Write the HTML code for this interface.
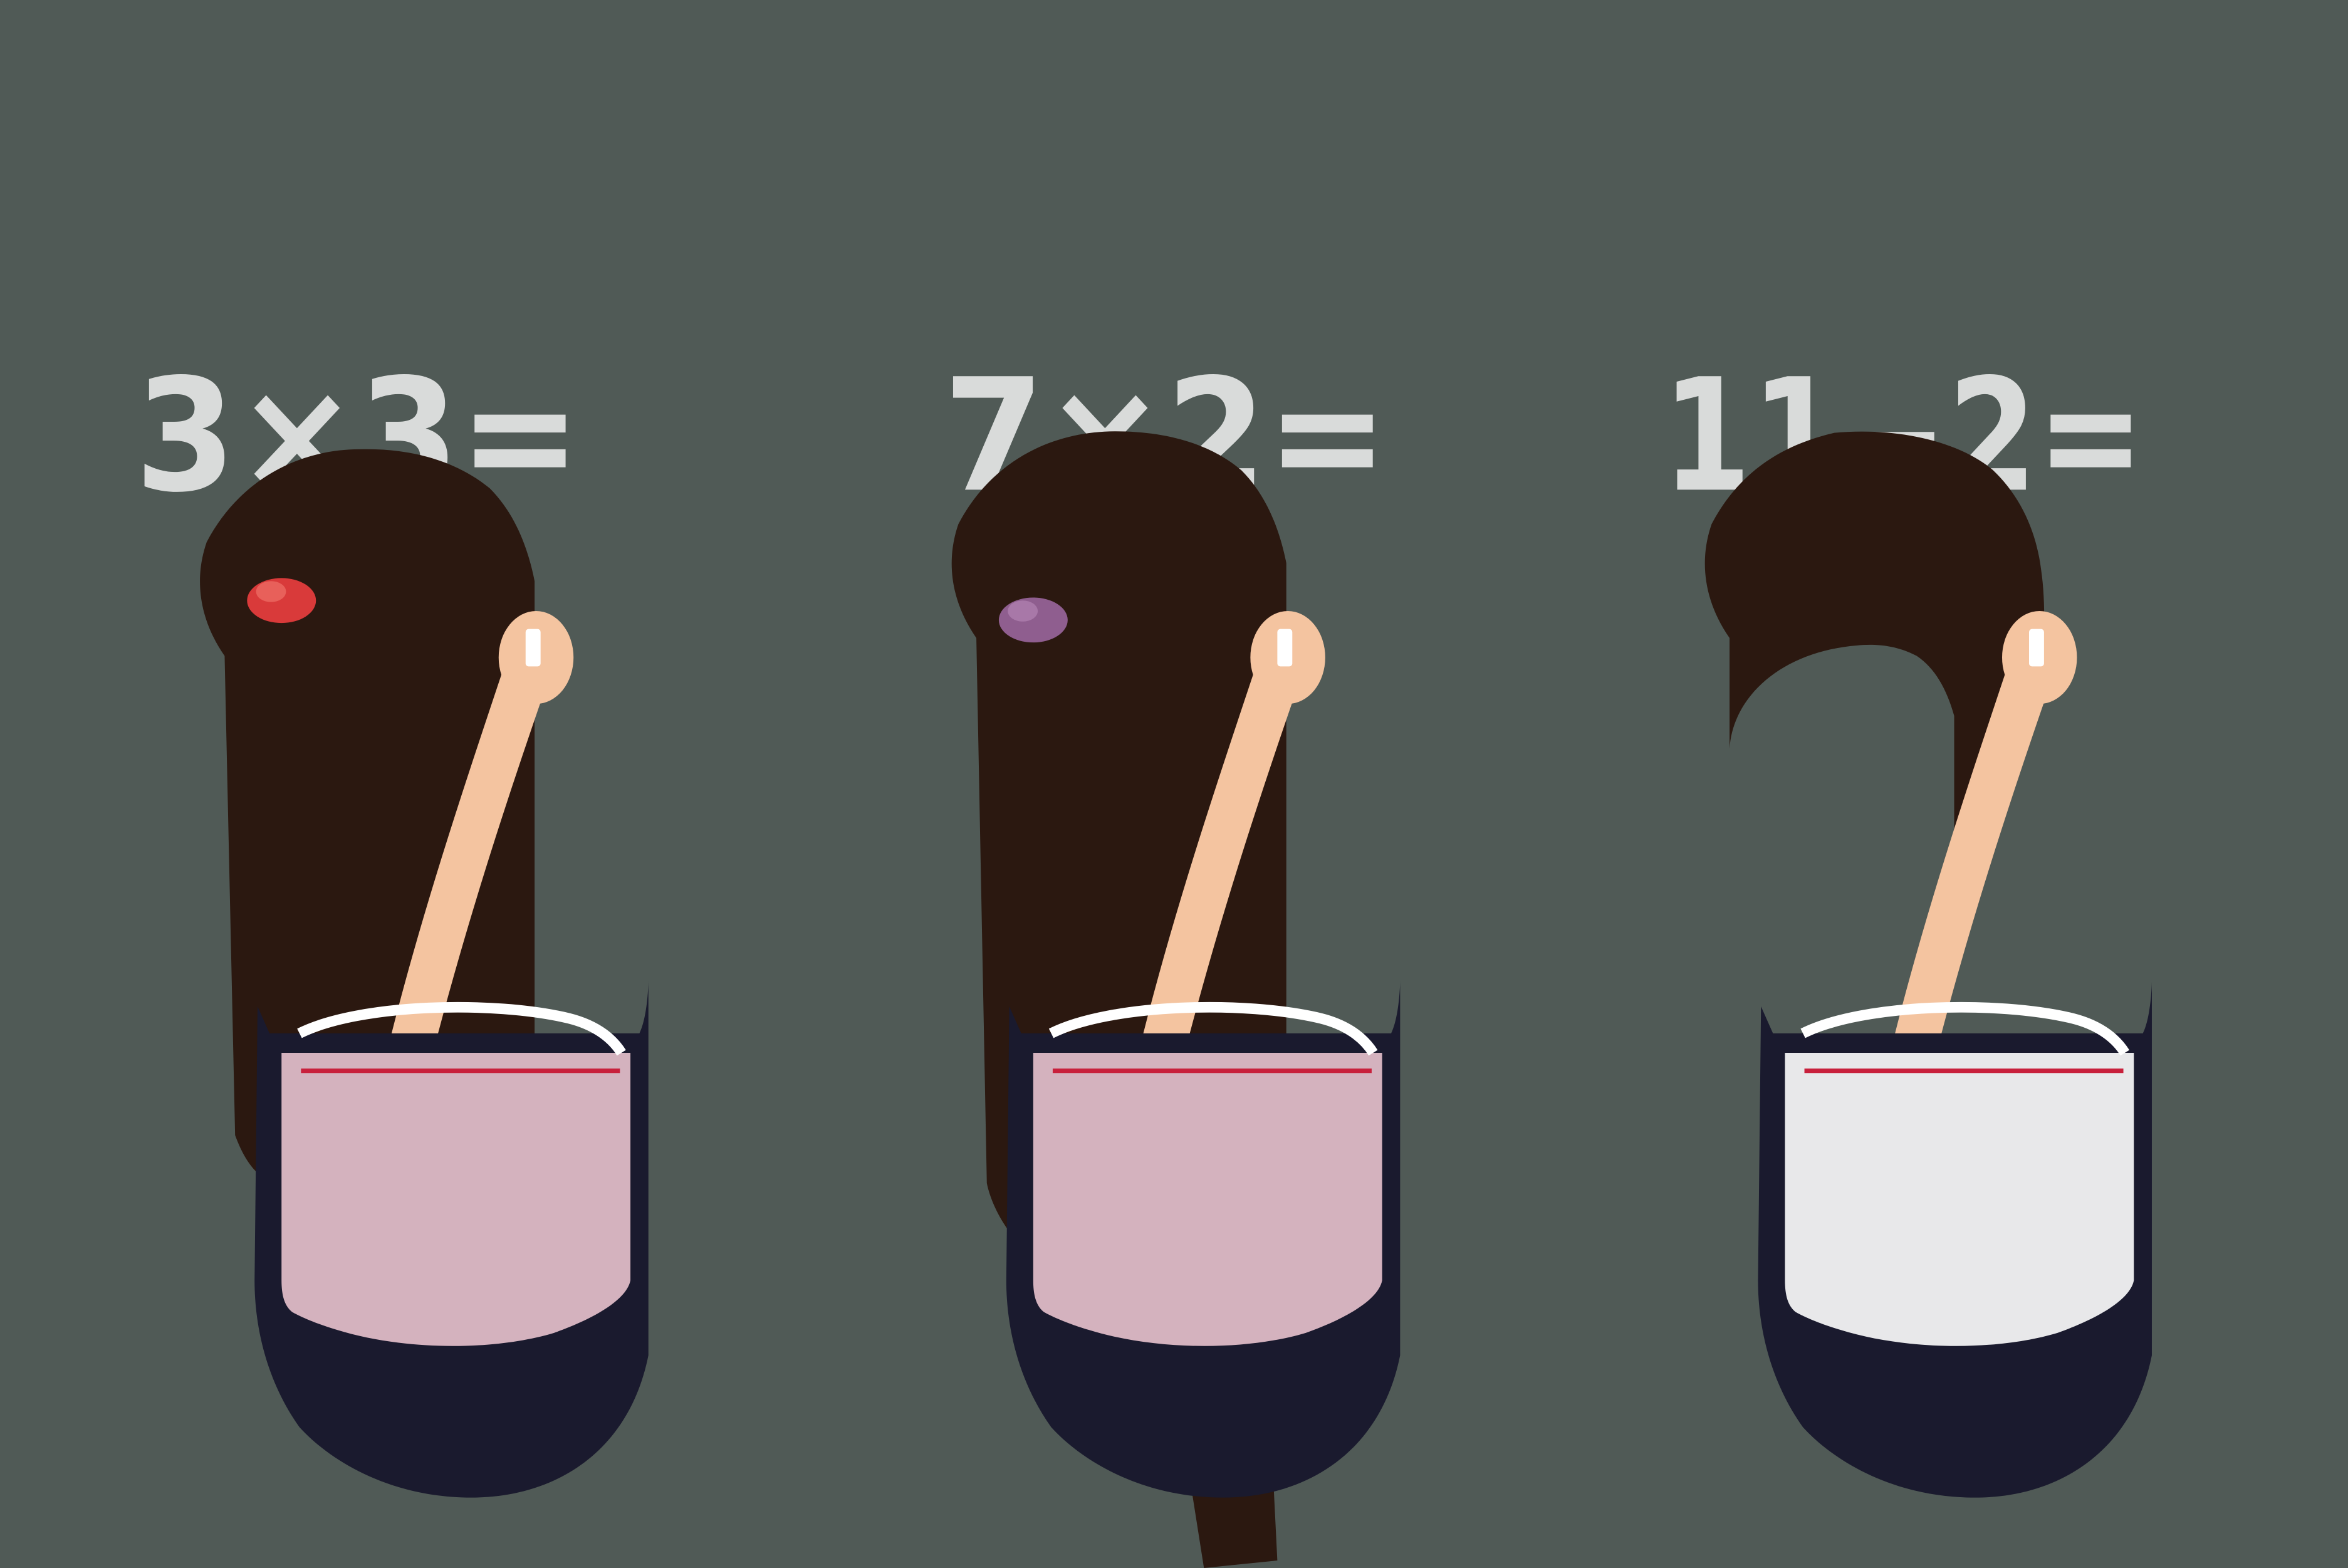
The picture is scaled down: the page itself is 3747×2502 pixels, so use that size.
<!DOCTYPE html>
<html><head><meta charset="utf-8"><style>
html,body{margin:0;padding:0;background:#525b57;}
svg{display:block;}
</style></head><body>
<svg width="3747" height="2502" viewBox="0 0 1568 1047" xmlns="http://www.w3.org/2000/svg">
<rect width="1568" height="1047" fill="#505a56"/>
<g font-family="DejaVu Sans, sans-serif" font-weight="bold" font-size="104" fill="#d9dbda">
<text x="90" y="327" textLength="298" lengthAdjust="spacingAndGlyphs">3×3=</text>
<text x="630" y="327" textLength="297" lengthAdjust="spacingAndGlyphs">7×2=</text>
<text x="1110" y="327" textLength="322" lengthAdjust="spacingAndGlyphs">11−2=</text>
</g>

<!-- figure 1 -->
<g>
<path fill="#2b1810" d="M150,438 C132,412 130,385 138,362 C160,320 200,300 240,300 C275,299 305,308 327,326 C345,344 353,368 357,388 L357,700 L200,780 C180,800 165,780 157,758 Z"/>
<ellipse cx="188" cy="401" rx="23" ry="15" fill="#d93a3a"/>
<ellipse cx="181" cy="395" rx="10" ry="7" fill="#e8605a"/>
<path fill="#f4c4a0" d="M335,450 L362,466 C340,530 315,605 292,692 L261,692 C283,605 310,525 335,450 Z"/>
<ellipse cx="358" cy="439" rx="25" ry="31" fill="#f4c4a0"/>
<rect x="351" y="420" width="10" height="25" rx="2" fill="#fff"/>
<path fill="#1a1a2e" d="M172,672 L180,690 L427,690 C432,680 433,660 433,655 L433,905 C420,970 370,1000 315,1000 C260,1000 220,975 200,953 C180,925 170,890 170,855 Z"/>
<path fill="#d4b2be" d="M188,703 L421,703 L421,855 C418,870 390,883 370,890 C330,902 270,902 225,888 C205,882 195,876 195,876 C190,872 188,865 188,855 Z"/>
<line x1="201" y1="715" x2="414" y2="715" stroke="#c8203c" stroke-width="3"/>
<path fill="none" stroke="#fff" stroke-width="7" d="M200,690 C240,670 330,668 380,680 C400,685 410,695 415,703"/>
</g>

<!-- figure 2 -->
<g>
<path fill="#2b1810" d="M652,426 C634,400 632,373 640,350 C662,308 702,288 745,288 C778,288 808,296 829,314 C847,332 855,356 859,376 L859,700 L840,780 L853,1042 L804,1047 L795,990 L680,830 C667,815 661,800 659,790 Z"/>
<ellipse cx="690" cy="414" rx="23" ry="15" fill="#8f5e8f"/>
<ellipse cx="683" cy="408" rx="10" ry="7" fill="#a878a8"/>
<path fill="#f4c4a0" d="M837,450 L864,466 C842,530 817,605 794,692 L763,692 C785,605 812,525 837,450 Z"/>
<ellipse cx="860" cy="439" rx="25" ry="31" fill="#f4c4a0"/>
<rect x="853" y="420" width="10" height="25" rx="2" fill="#fff"/>
<path fill="#1a1a2e" d="M674,672 L682,690 L929,690 C934,680 935,660 935,655 L935,905 C922,970 872,1000 817,1000 C762,1000 722,975 702,953 C682,925 672,890 672,855 Z"/>
<path fill="#d4b2be" d="M690,703 L923,703 L923,855 C920,870 892,883 872,890 C832,902 772,902 727,888 C707,882 697,876 697,876 C692,872 690,865 690,855 Z"/>
<line x1="703" y1="715" x2="916" y2="715" stroke="#c8203c" stroke-width="3"/>
<path fill="none" stroke="#fff" stroke-width="7" d="M702,690 C742,670 832,668 882,680 C902,685 912,695 917,703"/>
</g>

<!-- figure 3 -->
<g>
<path fill="#2b1810" d="M1155,426 C1137,400 1135,373 1143,350 C1165,308 1200,295 1225,289 C1270,285 1310,296 1331,314 C1350,332 1360,356 1363,380 C1366,400 1365,420 1365,440 L1340,452 L1305,555 L1305,478 C1300,460 1292,446 1280,438 C1265,430 1250,430 1240,431 C1190,435 1157,465 1155,500 Z"/>
<path fill="#f4c4a0" d="M1339,450 L1366,466 C1344,530 1319,605 1296,692 L1265,692 C1287,605 1314,525 1339,450 Z"/>
<ellipse cx="1362" cy="439" rx="25" ry="31" fill="#f4c4a0"/>
<rect x="1355" y="420" width="10" height="25" rx="2" fill="#fff"/>
<path fill="#1a1a2e" d="M1176,672 L1184,690 L1431,690 C1436,680 1437,660 1437,655 L1437,905 C1424,970 1374,1000 1319,1000 C1264,1000 1224,975 1204,953 C1184,925 1174,890 1174,855 Z"/>
<path fill="#e8e8ea" d="M1192,703 L1425,703 L1425,855 C1422,870 1394,883 1374,890 C1334,902 1274,902 1229,888 C1209,882 1199,876 1199,876 C1194,872 1192,865 1192,855 Z"/>
<line x1="1205" y1="715" x2="1418" y2="715" stroke="#c8203c" stroke-width="3"/>
<path fill="none" stroke="#fff" stroke-width="7" d="M1204,690 C1244,670 1334,668 1384,680 C1404,685 1414,695 1419,703"/>
</g>
</svg>
</body></html>
